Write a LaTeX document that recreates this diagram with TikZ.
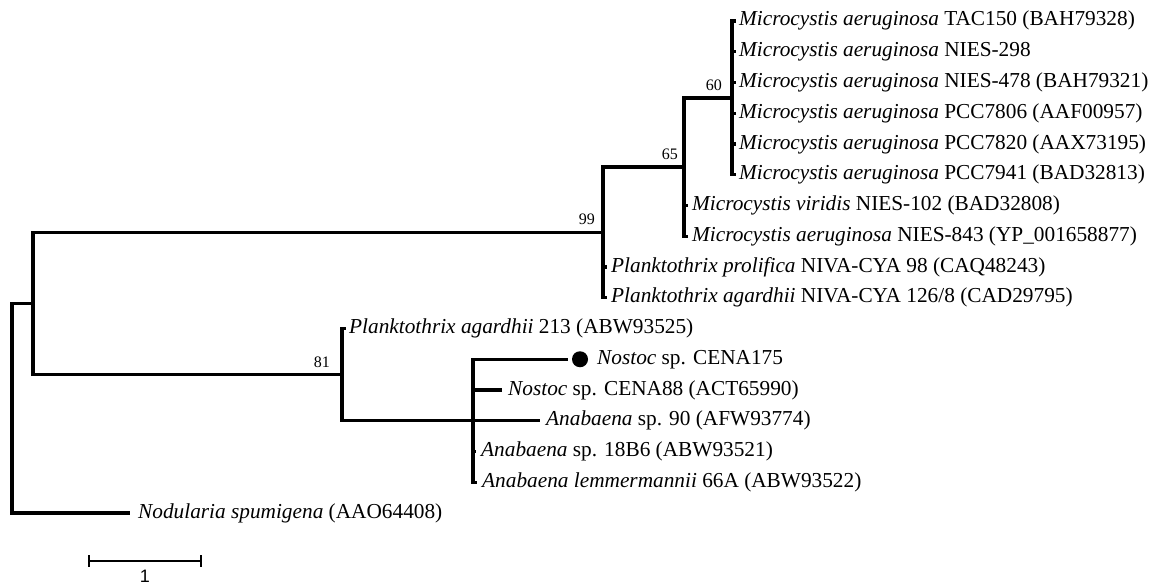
\documentclass[tikz,border=0pt]{standalone}
\usepackage{fontspec}
\setmainfont{Liberation Serif}
\newfontfamily\barfont{Liberation Sans}
\begin{document}
\begin{tikzpicture}[x=1pt,y=-1pt,
  branch/.style={line width=3.3pt},
  leaf/.style={anchor=west, inner sep=0pt, font=\fontsize{21.3}{25}\selectfont, text height=15pt, text depth=5pt},
  boot/.style={anchor=base east, inner sep=0pt, font=\fontsize{16}{19}\selectfont},
  scalebar/.style={line width=2pt},
  tipdot/.style={circle, fill=black, inner sep=0pt, minimum size=16pt}
]
\useasboundingbox (0,0) rectangle (1151,586);
% internal nodes
\coordinate (root) at (12,408.25);
\coordinate (nin) at (33,303.5);
\coordinate (n99) at (603,232.4);
\coordinate (n65) at (684,167.1);
\coordinate (n60) at (732,97.9);
\coordinate (n81) at (342,374.6);
\coordinate (nc) at (473,420.75);
% tips
\coordinate (t0) at (736,21);
\coordinate (t1) at (736,51.75);
\coordinate (t2) at (736,82.5);
\coordinate (t3) at (736,113.25);
\coordinate (t4) at (736,144);
\coordinate (t5) at (736,174.75);
\coordinate (t6) at (688,205.5);
\coordinate (t7) at (688,236.25);
\coordinate (t8) at (607,267);
\coordinate (t9) at (607,297.75);
\coordinate (t10) at (346,328.5);
\coordinate (t11) at (568,359.25);
\coordinate (t12) at (502,390);
\coordinate (t13) at (540,420.75);
\coordinate (t14) at (476,451.5);
\coordinate (t15) at (477,482.25);
\coordinate (t16) at (130,513);
% branches
\draw[branch] (root) |- (nin);
\draw[branch] (root) |- (t16);
\draw[branch] (nin) |- (n99);
\draw[branch] (nin) |- (n81);
\draw[branch] (n99) |- (n65);
\draw[branch] (n99) |- (t8);
\draw[branch] (n99) |- (t9);
\draw[branch] (n65) |- (n60);
\draw[branch] (n65) |- (t6);
\draw[branch] (n65) |- (t7);
\foreach \i in {0,...,5} {\draw[branch] (n60) |- (t\i);}
\draw[branch] (n81) |- (t10);
\draw[branch] (n81) |- (nc);
\foreach \i in {11,...,15} {\draw[branch] (nc) |- (t\i);}
% leaf labels
\node[leaf] (L0) at (739,21) {\textit{Microcystis aeruginosa} TAC150 (BAH79328)};
\node[leaf] (L1) at (739,51.75) {\textit{Microcystis aeruginosa} NIES-298};
\node[leaf] (L2) at (739,82.5) {\textit{Microcystis aeruginosa} NIES-478 (BAH79321)};
\node[leaf] (L3) at (739,113.25) {\textit{Microcystis aeruginosa} PCC7806 (AAF00957)};
\node[leaf] (L4) at (739,144) {\textit{Microcystis aeruginosa} PCC7820 (AAX73195)};
\node[leaf] (L5) at (739,174.75) {\textit{Microcystis aeruginosa} PCC7941 (BAD32813)};
\node[leaf] (L6) at (692,205.5) {\textit{Microcystis viridis} NIES-102 (BAD32808)};
\node[leaf] (L7) at (692,236.25) {\textit{Microcystis aeruginosa} NIES-843 (YP\_001658877)};
\node[leaf] (L8) at (611,267) {\textit{Planktothrix prolifica} NIVA-CYA 98 (CAQ48243)};
\node[leaf] (L9) at (611,297.75) {\textit{Planktothrix agardhii} NIVA-CYA 126/8 (CAD29795)};
\node[leaf] (L10) at (349,328.5) {\textit{Planktothrix agardhii} 213 (ABW93525)};
\node[tipdot] (dot) at (580,359.25) {};
\node[leaf] (L11) at (597,359.25) {\textit{Nostoc} sp. CENA175};
\node[leaf] (L12) at (508,390) {\textit{Nostoc} sp. CENA88 (ACT65990)};
\node[leaf] (L13) at (546,420.75) {\textit{Anabaena} sp. 90 (AFW93774)};
\node[leaf] (L14) at (481,451.5) {\textit{Anabaena} sp. 18B6 (ABW93521)};
\node[leaf] (L15) at (482,482.25) {\textit{Anabaena lemmermannii} 66A (ABW93522)};
\node[leaf] (L16) at (138,513) {\textit{Nodularia spumigena} (AAO64408)};
% bootstrap values
\node[boot] (b60) at (722,90) {60};
\node[boot] (b65) at (678,159) {65};
\node[boot] (b99) at (595,224) {99};
\node[boot] (b81) at (330,367) {81};
% scale bar
\coordinate (s0) at (89,561);
\coordinate (s1) at (201,561);
\draw[scalebar] (s0) -- (s1);
\draw[scalebar] ([yshift=6pt]s0) -- ([yshift=-6pt]s0);
\draw[scalebar] ([yshift=6pt]s1) -- ([yshift=-6pt]s1);
\node[anchor=north, inner sep=0pt, font=\barfont\fontsize{18}{22}\selectfont] (sl) at (145,570) {1};
\end{tikzpicture}
\end{document}
